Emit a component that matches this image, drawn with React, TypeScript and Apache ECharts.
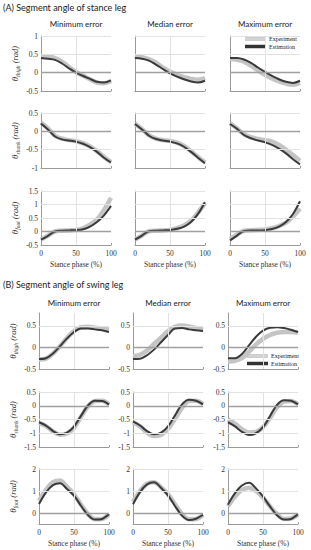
import React, { useEffect, useRef } from 'react';
import * as echarts from 'echarts';

const phase = [0, 10, 20, 30, 40, 50, 60, 70, 80, 90, 100];
const columnTitles = ['Minimum error', 'Median error', 'Maximum error'];
const blockTitles = ['(A) Segment angle of stance leg', '(B) Segment angle of swing leg'];
const segmentNames = ['thigh', 'shank', 'foot'];
const xTicks = [0, 50, 100];
const xAxisTitle = 'Stance phase (%)';
const legendNames = ['Experiment', 'Estimation'];

// (A) stance leg — [min, median, max] error cases
const stanceThighExp = [
  [0.45, 0.44, 0.4, 0.3, 0.15, 0.02, -0.08, -0.18, -0.27, -0.29, -0.23],
  [0.45, 0.42, 0.37, 0.27, 0.14, 0.03, -0.06, -0.12, -0.17, -0.19, -0.15],
  [0.37, 0.35, 0.3, 0.19, 0.06, -0.06, -0.16, -0.24, -0.3, -0.33, -0.28],
];
const stanceThighEst = [
  [0.4, 0.38, 0.35, 0.25, 0.12, 0.0, -0.09, -0.17, -0.25, -0.27, -0.21],
  [0.4, 0.38, 0.33, 0.22, 0.1, -0.02, -0.11, -0.18, -0.24, -0.27, -0.22],
  [0.4, 0.4, 0.36, 0.27, 0.14, 0.02, -0.09, -0.18, -0.25, -0.28, -0.22],
];
const stanceShankExp = [
  [0.24, 0.08, -0.12, -0.2, -0.24, -0.27, -0.32, -0.41, -0.54, -0.7, -0.84],
  [0.21, 0.06, -0.11, -0.2, -0.24, -0.26, -0.31, -0.4, -0.54, -0.7, -0.85],
  [0.22, 0.08, -0.08, -0.16, -0.21, -0.24, -0.28, -0.37, -0.5, -0.65, -0.8],
];
const stanceShankEst = [
  [0.21, 0.05, -0.14, -0.22, -0.25, -0.28, -0.34, -0.43, -0.56, -0.72, -0.85],
  [0.2, 0.05, -0.12, -0.21, -0.25, -0.28, -0.33, -0.42, -0.56, -0.72, -0.87],
  [0.2, 0.07, -0.1, -0.19, -0.25, -0.3, -0.37, -0.47, -0.6, -0.76, -0.9],
];
const stanceFootExp = [
  [-0.3, -0.15, 0.0, 0.03, 0.04, 0.06, 0.12, 0.25, 0.45, 0.8, 1.25],
  [-0.3, -0.15, 0.01, 0.03, 0.04, 0.06, 0.12, 0.22, 0.4, 0.7, 1.05],
  [-0.28, -0.12, 0.03, 0.05, 0.06, 0.07, 0.12, 0.2, 0.33, 0.55, 0.85],
];
const stanceFootEst = [
  [-0.3, -0.16, 0.0, 0.03, 0.04, 0.05, 0.08, 0.18, 0.35, 0.6, 0.95],
  [-0.3, -0.15, 0.01, 0.03, 0.04, 0.05, 0.1, 0.18, 0.35, 0.65, 1.08],
  [-0.33, -0.15, 0.02, 0.04, 0.04, 0.05, 0.09, 0.18, 0.35, 0.65, 1.12],
];

// (B) swing leg
const swingThighExp = [
  [-0.28, -0.26, -0.14, 0.03, 0.22, 0.38, 0.47, 0.48, 0.46, 0.44, 0.41],
  [-0.2, -0.17, -0.07, 0.08, 0.23, 0.38, 0.48, 0.51, 0.49, 0.45, 0.41],
  [-0.33, -0.31, -0.25, -0.1, 0.07, 0.2, 0.29, 0.34, 0.36, 0.36, 0.34],
];
const swingThighEst = [
  [-0.27, -0.25, -0.14, 0.03, 0.21, 0.36, 0.44, 0.44, 0.42, 0.4, 0.36],
  [-0.27, -0.26, -0.18, -0.05, 0.12, 0.29, 0.44, 0.45, 0.42, 0.4, 0.38],
  [-0.25, -0.25, -0.15, 0.05, 0.25, 0.39, 0.46, 0.47, 0.45, 0.41, 0.36],
];
const swingShankExp = [
  [-0.62, -0.74, -0.93, -1.05, -1.01, -0.8, -0.4, -0.02, 0.17, 0.18, 0.05],
  [-0.6, -0.75, -0.98, -1.1, -1.06, -0.85, -0.48, -0.08, 0.17, 0.18, 0.06],
  [-0.5, -0.65, -0.85, -0.97, -0.95, -0.78, -0.44, -0.06, 0.15, 0.17, 0.05],
];
const swingShankEst = [
  [-0.6, -0.72, -0.92, -1.04, -0.98, -0.76, -0.37, 0.01, 0.18, 0.17, 0.04],
  [-0.57, -0.72, -0.92, -1.04, -0.98, -0.75, -0.35, 0.05, 0.22, 0.18, 0.05],
  [-0.6, -0.75, -0.95, -1.06, -1.0, -0.78, -0.38, 0.03, 0.2, 0.18, 0.05],
];
const swingFootExp = [
  [0.55, 1.05, 1.4, 1.48, 1.2, 0.85, 0.38, -0.05, -0.28, -0.27, -0.05],
  [0.5, 1.0, 1.33, 1.4, 1.17, 0.85, 0.4, -0.05, -0.28, -0.27, -0.08],
  [0.3, 0.75, 1.05, 1.15, 1.0, 0.7, 0.3, -0.05, -0.27, -0.25, -0.08],
];
const swingFootEst = [
  [0.41, 0.94, 1.27, 1.35, 1.09, 0.79, 0.33, -0.09, -0.3, -0.27, -0.05],
  [0.4, 0.95, 1.3, 1.4, 1.15, 0.8, 0.32, -0.12, -0.32, -0.26, -0.08],
  [0.38, 0.9, 1.25, 1.37, 1.12, 0.75, 0.3, -0.1, -0.3, -0.27, -0.05],
];

// Y ranges and tick labels per row
const stanceRanges = [[-0.5, 1], [-1, 0.5], [-0.5, 1.5]];
const stanceTicks = [[1, 0.5, 0, -0.5], [0.5, 0, -0.5, -1], [1.5, 1, 0.5, 0, -0.5]];
const swingRanges = [[-0.5, 0.8], [-1.5, 0.5], [-0.5, 2]];
const swingTicks = [[0.5, 0, -0.5], [0.5, 0, -0.5, -1, -1.5], [2, 1, 0]];

const SERIF = '"Liberation Serif", "DejaVu Serif", serif';
const SANS = 'Lato, "Open Sans", sans-serif';

export default function App() {
  const ref = useRef<HTMLDivElement>(null);
  useEffect(() => {
    document.body.style.margin = '0';
    if (!ref.current) return;
    const chart = echarts.init(ref.current, null, { renderer: 'svg' });

    const blocks = [
      {
        exp: [stanceThighExp, stanceShankExp, stanceFootExp],
        est: [stanceThighEst, stanceShankEst, stanceFootEst],
        ranges: stanceRanges,
        ticks: stanceTicks,
        lefts: [41, 135, 230],
        tops: [36, 113, 191],
        heights: [55, 55, 54],
        showColYLabels: false,
      },
      {
        exp: [swingThighExp, swingShankExp, swingFootExp],
        est: [swingThighEst, swingShankEst, swingFootEst],
        ranges: swingRanges,
        ticks: swingTicks,
        lefts: [39, 133, 228],
        tops: [313, 392, 469],
        heights: [56, 55, 55],
        showColYLabels: true,
      },
    ];

    const grids: any[] = [];
    const xAxes: any[] = [];
    const yAxes: any[] = [];
    const series: any[] = [];
    let idx = 0;
    blocks.forEach((b) => {
      for (let r = 0; r < 3; r++) {
        for (let c = 0; c < 3; c++) {
          grids.push({ left: b.lefts[c], top: b.tops[r], width: 70, height: b.heights[r] });
          const ticks = b.ticks[r];
          const isBottom = r === 2;
          xAxes.push({
            gridIndex: idx,
            type: 'value',
            min: 0,
            max: 100,
            interval: 50,
            axisLine: { show: true, onZero: false, lineStyle: { color: '#9a9a9a', width: 1 } },
            axisTick: { show: true, inside: true, length: 2, lineStyle: { color: '#9a9a9a' } },
            splitLine: { show: false },
            axisLabel: {
              show: isBottom,
              fontFamily: SERIF,
              fontSize: 7.5,
              color: '#333',
              margin: 4,
            },
            name: isBottom ? xAxisTitle : '',
            nameLocation: 'middle',
            nameGap: 15,
            nameTextStyle: { fontFamily: SERIF, fontSize: 7.5, color: '#333' },
          });
          const showY = c === 0 || b.showColYLabels;
          const seg = segmentNames[r];
          yAxes.push({
            gridIndex: idx,
            type: 'value',
            min: b.ranges[r][0],
            max: b.ranges[r][1],
            interval: 0.5,
            axisLine: { show: true, onZero: false, lineStyle: { color: '#9a9a9a', width: 1 } },
            axisTick: { show: false },
            splitLine: { show: false },
            axisLabel: {
              show: showY,
              fontFamily: SERIF,
              fontSize: 7.5,
              color: '#333',
              margin: 3,
              showMaxLabel: true,
              formatter: (v: number) => {
                const t = ticks.find((t) => Math.abs(t - v) < 1e-6);
                return t === undefined ? '' : String(t);
              },
            },
            name: c === 0 ? `{a|θ}{s|${seg}}{b| (rad)}` : '',
            nameLocation: 'middle',
            nameRotate: 90,
            nameGap: 20,
            nameTextStyle: {
              rich: {
                a: { fontFamily: SERIF, fontStyle: 'italic', fontSize: 9, color: '#333', lineHeight: 12 },
                s: { fontFamily: SERIF, fontStyle: 'italic', fontSize: 5.5, color: '#333', lineHeight: 12, verticalAlign: 'bottom', padding: [4, 0, 0, 0] },
                b: { fontFamily: SERIF, fontStyle: 'italic', fontSize: 8.5, color: '#333', lineHeight: 12 },
              },
            },
          });
          // grid lines
          series.push({
            type: 'line',
            xAxisIndex: idx,
            yAxisIndex: idx,
            data: [],
            silent: true,
            z: 1,
            markLine: {
              silent: true,
              symbol: ['none', 'none'],
              label: { show: false },
              animation: false,
              data: [
                ...ticks
                  .filter((t) => t !== 0 && t !== b.ranges[r][0])
                  .map((t) => ({ yAxis: t, lineStyle: { color: '#e2e2e2', width: 1, type: 'solid' } })),
                { xAxis: 50, lineStyle: { color: '#e2e2e2', width: 1, type: 'solid' } },
                { yAxis: 0, lineStyle: { color: '#a0a0a0', width: 1.3, type: 'solid' } },
              ],
            },
          });
          series.push({
            type: 'line',
            name: legendNames[0],
            xAxisIndex: idx,
            yAxisIndex: idx,
            data: phase.map((x, j) => [x, b.exp[r][c][j]]),
            smooth: 0.35,
            showSymbol: false,
            z: 2,
            lineStyle: { color: '#c4c4c4', width: 4.5 },
          });
          series.push({
            type: 'line',
            name: legendNames[1],
            xAxisIndex: idx,
            yAxisIndex: idx,
            data: phase.map((x, j) => [x, b.est[r][c][j]]),
            smooth: 0.35,
            showSymbol: false,
            z: 3,
            lineStyle: { color: '#3a3a3a', width: 2 },
          });
          idx++;
        }
      }
    });

    const graphic: any[] = [];
    blockTitles.forEach((t, i) => {
      graphic.push({
        type: 'text',
        left: 3,
        top: i === 0 ? 3 : 280,
        style: { text: t, fontFamily: SANS, fontSize: 9, fill: '#222' },
      });
      const colCenters = (i === 0 ? [41, 135, 230] : [39, 133, 228]).map((l) => l + 35);
      columnTitles.forEach((ct, c) => {
        graphic.push({
          type: 'text',
          x: colCenters[c],
          y: i === 0 ? 24 : 303,
          style: { text: ct, fontFamily: SANS, fontSize: 8, fill: '#222', align: 'center', verticalAlign: 'middle' },
        });
      });
    });
    const legendPos = [
      { x: 245, y: 39 },
      { x: 247, y: 356 },
    ];
    legendPos.forEach((p) => {
      graphic.push({ type: 'line', shape: { x1: p.x, y1: p.y, x2: p.x + 21, y2: p.y }, style: { stroke: '#bdbdbd', lineWidth: 3.5 } });
      graphic.push({ type: 'line', shape: { x1: p.x, y1: p.y, x2: p.x + 21, y2: p.y }, style: { stroke: '#e8e8e8', lineWidth: 1 } });
      graphic.push({ type: 'line', shape: { x1: p.x, y1: p.y + 7.5, x2: p.x + 21, y2: p.y + 7.5 }, style: { stroke: '#333', lineWidth: 3.5 } });
      graphic.push({ type: 'text', x: p.x + 24, y: p.y, style: { text: legendNames[0], fontFamily: SERIF, fontSize: 6, fill: '#222', verticalAlign: 'middle' } });
      graphic.push({ type: 'text', x: p.x + 24, y: p.y + 7.5, style: { text: legendNames[1], fontFamily: SERIF, fontSize: 6, fill: '#222', verticalAlign: 'middle' } });
    });

    chart.setOption({
      animation: false,
      backgroundColor: '#fff',
      grid: grids,
      xAxis: xAxes,
      yAxis: yAxes,
      series,
      graphic,
    });
    return () => chart.dispose();
  }, []);
  return <div ref={ref} style={{ width: 311, height: 550 }} />;
}
